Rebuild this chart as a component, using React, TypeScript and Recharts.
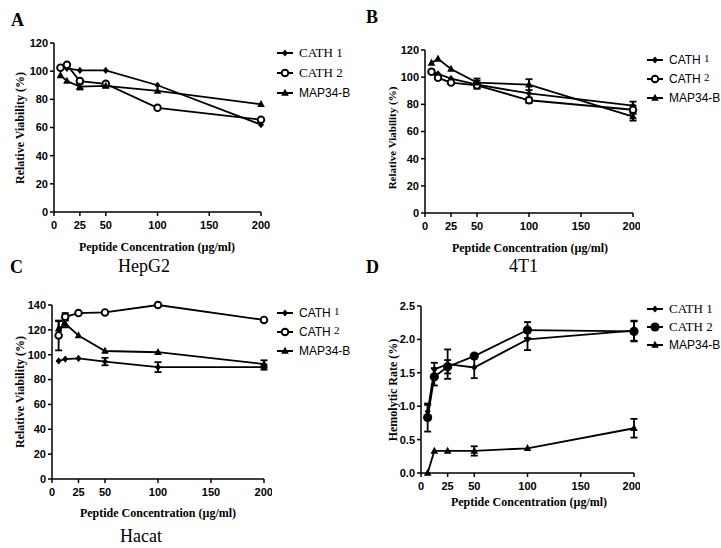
import React from "react";
import { LineChart, Line, XAxis, YAxis, ErrorBar } from "recharts";

// concentrations (µg/ml) shared by every panel
const conc = [6.25, 12.5, 25, 50, 100, 200];
const xTicks = [0, 25, 50, 100, 150, 200];

// A: HepG2 viability
const hepCath1 = [102, 102, 100.5, 100.5, 90, 62];
const hepCath2 = [102.5, 104.5, 93, 91, 74, 65.5];
const hepMap = [97, 93, 89, 89.5, 86, 76.5];
const hepMapErr = [0, 0, 2, 1, 0, 0];

// B: 4T1 viability
const t1Cath1 = [104, 102.5, 99, 94.5, 88, 79];
const t1Cath1Err = [0, 0, 0, 3, 0, 3];
const t1Cath2 = [104, 99.5, 96, 94, 83, 76];
const t1Cath2Err = [0, 0, 0, 2, 2, 3];
const t1Map = [110.5, 113.5, 106, 96, 94.5, 71];
const t1MapErr = [0, 0, 0, 3, 4, 3];

// C: Hacat viability
const haCath1 = [95, 96.5, 97, 94.5, 90, 90];
const haCath1Err = [0, 0, 0, 3, 4, 2];
const haCath2 = [115.5, 130.5, 133.5, 134, 140, 128];
const haCath2Err = [12, 3, 0, 0, 0, 0];
const haMap = [121, 125, 115.5, 103, 102, 92.5];
const haMapErr = [6, 3, 0, 0, 0, 3];

// D: hemolysis
const hemCath1 = [0.92, 1.55, 1.63, 1.58, 2.0, 2.13];
const hemCath1Err = [0.1, 0.1, 0.22, 0.16, 0.16, 0.15];
const hemCath2 = [0.83, 1.44, 1.59, 1.75, 2.14, 2.12];
const hemCath2Err = [0.21, 0.13, 0.1, 0, 0.12, 0.15];
const hemMap = [0, 0.33, 0.33, 0.33, 0.37, 0.67];
const hemMapErr = [0, 0, 0, 0.07, 0, 0.14];

const viabTicks = [0, 20, 40, 60, 80, 100, 120];
const hacatTicks = [0, 20, 40, 60, 80, 100, 120, 140];
const hemTicks = [0, 0.5, 1, 1.5, 2, 2.5];

const seriesNames = ["CATH 1", "CATH 2", "MAP34-B"];

const SANS = "'Liberation Sans', Arial, sans-serif";
const SERIF = "'Liberation Serif', 'Times New Roman', serif";

type Shape = "diamond" | "circle" | "dot" | "triangle";

function buildRows(a: number[], ae: number[], b: number[], be: number[], c: number[], ce: number[]) {
  return conc.map((x, i) => ({
    x,
    c1: a[i],
    c1e: ae[i],
    c2: b[i],
    c2e: be[i],
    m: c[i],
    me: ce[i],
  }));
}

const zeros = conc.map(() => 0);

function Marker({ cx, cy, shape }: { cx?: number; cy?: number; shape: Shape }) {
  if (cx == null || cy == null) return null;
  if (shape === "diamond")
    return <polygon points={`${cx},${cy - 3.6} ${cx + 3},${cy} ${cx},${cy + 3.6} ${cx - 3},${cy}`} fill="#000" />;
  if (shape === "circle") return <circle cx={cx} cy={cy} r={3.3} fill="#fff" stroke="#000" strokeWidth={1.9} />;
  if (shape === "dot") return <circle cx={cx} cy={cy} r={4.6} fill="#000" />;
  return <polygon points={`${cx},${cy - 4.3} ${cx + 3.8},${cy + 2.8} ${cx - 3.8},${cy + 2.8}`} fill="#000" />;
}

function dotFor(shape: Shape) {
  return (p: any) => <Marker key={`${shape}-${p.index}`} cx={p.cx} cy={p.cy} shape={shape} />;
}

function LegendBox({ left, top, gap, shapes, sansCath }: { left: number; top: number; gap: number; shapes: Shape[]; sansCath: boolean }) {
  return (
    <div style={{ position: "absolute", left, top }}>
      {seriesNames.map((name, i) => {
        const isCath = name.startsWith("CATH");
        return (
          <div key={name} style={{ position: "absolute", top: i * gap, left: 0, display: "flex", alignItems: "center", height: 16, whiteSpace: "nowrap" }}>
            <svg width={18} height={12} style={{ overflow: "visible" }}>
              <line x1={1} y1={6} x2={17} y2={6} stroke="#000" strokeWidth={2} />
              <Marker cx={9} cy={6} shape={shapes[i]} />
            </svg>
            {isCath ? (
              sansCath ? (
                <span style={{ marginLeft: 5, fontFamily: SANS, fontSize: 12 }}>
                  CATH <span style={{ fontFamily: SERIF, fontSize: 11, position: "relative", top: -2 }}>{name.slice(5)}</span>
                </span>
              ) : (
                <span style={{ marginLeft: 5, fontFamily: SERIF, fontSize: 13 }}>{name}</span>
              )
            ) : (
              <span style={{ marginLeft: 5, fontFamily: SANS, fontSize: 12 }}>{name}</span>
            )}
          </div>
        );
      })}
    </div>
  );
}

interface PanelProps {
  left: number;
  top: number;
  width: number;
  height: number;
  margin: { top: number; right: number; left: number; bottom: number };
  yWidth: number;
  rows: any[];
  yMax: number;
  yTicks: number[];
  fmt?: (v: number) => string;
  shapes: Shape[];
}

function Panel({ left, top, width, height, margin, yWidth, rows, yMax, yTicks, fmt, shapes }: PanelProps) {
  const axisStyle = { stroke: "#000", strokeWidth: 1.5 };
  const tickStyle = { fill: "#000", fontFamily: SANS, fontWeight: 700, fontSize: 11 };
  const keys = [
    ["c1", "c1e"],
    ["c2", "c2e"],
    ["m", "me"],
  ];
  return (
    <div style={{ position: "absolute", left, top }}>
      <LineChart width={width} height={height} data={rows} margin={margin}>
        <XAxis
          type="number"
          dataKey="x"
          domain={[0, 200]}
          ticks={xTicks}
          height={28}
          axisLine={axisStyle}
          tickLine={axisStyle}
          tickSize={4}
          tickMargin={5}
          tick={tickStyle}
        />
        <YAxis
          type="number"
          domain={[0, yMax]}
          ticks={yTicks}
          width={yWidth}
          axisLine={axisStyle}
          tickLine={axisStyle}
          tickSize={4}
          tickMargin={2}
          tick={tickStyle}
          tickFormatter={fmt}
        />
        {keys.map(([k, e], i) => (
          <Line
            key={k}
            dataKey={k}
            stroke="#000"
            strokeWidth={1.8}
            dot={dotFor(shapes[i])}
            activeDot={false}
            isAnimationActive={false}
          >
            <ErrorBar dataKey={e} direction="y" width={3.5} stroke="#000" strokeWidth={1.8} isAnimationActive={false} />
          </Line>
        ))}
      </LineChart>
    </div>
  );
}

function Title({ x, y, text, size = 12, rotate = false }: { x: number; y: number; text: string; size?: number; rotate?: boolean }) {
  return (
    <div
      style={{
        position: "absolute",
        left: x,
        top: y,
        transform: `translate(-50%, -50%)${rotate ? " rotate(-90deg)" : ""}`,
        fontFamily: SERIF,
        fontWeight: 700,
        fontSize: size,
        whiteSpace: "nowrap",
        lineHeight: 1,
      }}
    >
      {text}
    </div>
  );
}

function Caption({ x, y, text, bold = false, size = 18 }: { x: number; y: number; text: string; bold?: boolean; size?: number }) {
  return (
    <div style={{ position: "absolute", left: x, top: y, fontFamily: SERIF, fontWeight: bold ? 700 : 400, fontSize: size, lineHeight: 1, whiteSpace: "nowrap" }}>
      {text}
    </div>
  );
}

export default function App() {
  const hepRows = buildRows(hepCath1, zeros, hepCath2, zeros, hepMap, hepMapErr);
  const t1Rows = buildRows(t1Cath1, t1Cath1Err, t1Cath2, t1Cath2Err, t1Map, t1MapErr);
  const haRows = buildRows(haCath1, haCath1Err, haCath2, haCath2Err, haMap, haMapErr);
  const hemRows = buildRows(hemCath1, hemCath1Err, hemCath2, hemCath2Err, hemMap, hemMapErr);
  const xTitle = "Peptide Concentration (µg/ml)";

  return (
    <div style={{ position: "fixed", left: 0, top: 0, width: 721, height: 548, background: "#fff", overflow: "hidden", color: "#000" }}>
      {/* A: HepG2 */}
      <Panel left={0} top={0} width={270} height={240} margin={{ top: 43, right: 9, left: 24, bottom: 0 }} yWidth={30}
        rows={hepRows} yMax={120} yTicks={viabTicks} shapes={["diamond", "circle", "triangle"]} />
      <Title x={157} y={247} text={xTitle} />
      <Title x={20} y={128} text="Relative Viability (%)" rotate />
      <LegendBox left={276} top={45} gap={20} shapes={["diamond", "circle", "triangle"]} sansCath={false} />
      <Caption x={11} y={11} text="A" bold />

      {/* B: 4T1 */}
      <Panel left={360} top={0} width={280} height={241} margin={{ top: 50, right: 7, left: 25, bottom: 0 }} yWidth={40}
        rows={t1Rows} yMax={120} yTicks={viabTicks} shapes={["diamond", "circle", "triangle"]} />
      <Title x={530} y={248} text={xTitle} />
      <Title x={392} y={138} text="Relative Viability (%)" size={11} rotate />
      <LegendBox left={646} top={52} gap={19} shapes={["diamond", "circle", "triangle"]} sansCath={true} />
      <Caption x={366} y={8} text="B" bold />

      {/* C: Hacat */}
      <Panel left={0} top={270} width={272} height={237} margin={{ top: 35, right: 8, left: 22, bottom: 0 }} yWidth={30}
        rows={haRows} yMax={140} yTicks={hacatTicks} shapes={["diamond", "circle", "triangle"]} />
      <Title x={158} y={513} text={xTitle} />
      <Title x={20} y={392} text="Relative Viability (%)" rotate />
      <LegendBox left={276} top={305} gap={19} shapes={["diamond", "circle", "triangle"]} sansCath={true} />
      <Caption x={10} y={258} text="C" bold />
      <Caption x={118} y={257} text="HepG2" />
      <Caption x={120} y={527} text="Hacat" />

      {/* D: hemolysis */}
      <Panel left={360} top={270} width={280} height={231} margin={{ top: 36, right: 6, left: 21, bottom: 0 }} yWidth={40}
        rows={hemRows} yMax={2.5} yTicks={hemTicks} fmt={(v) => v.toFixed(1)} shapes={["diamond", "dot", "triangle"]} />
      <Title x={529} y={502} text={xTitle} />
      <Title x={393} y={390} text="Hemolytic Rate (%)" rotate />
      <LegendBox left={646} top={301} gap={18} shapes={["diamond", "dot", "triangle"]} sansCath={false} />
      <Caption x={366} y={258} text="D" bold />
      <Caption x={509} y={257} text="4T1" />
    </div>
  );
}
